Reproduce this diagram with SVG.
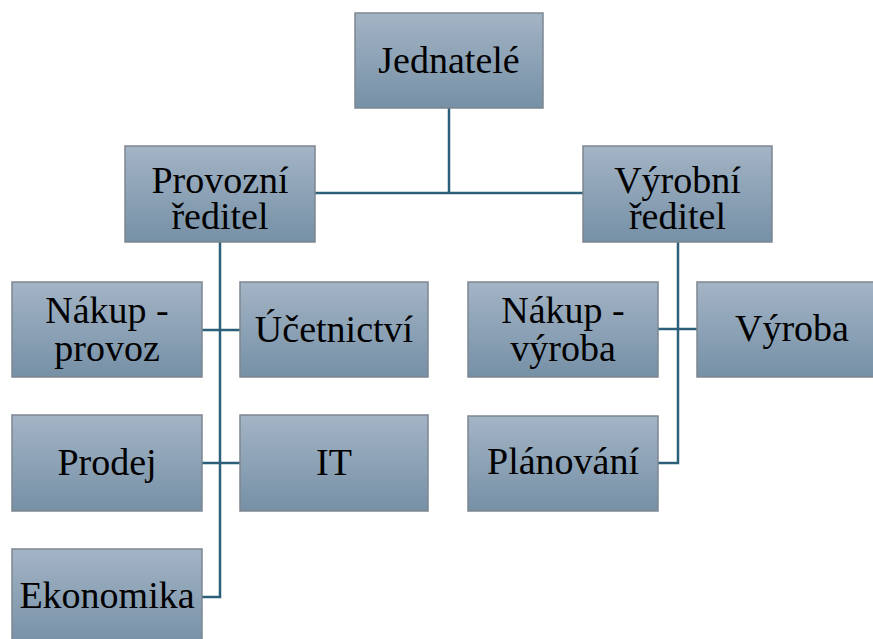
<svg xmlns="http://www.w3.org/2000/svg" width="873" height="639" viewBox="0 0 873 639">
<defs>
<linearGradient id="g" x1="0" y1="0" x2="0" y2="1">
<stop offset="0" stop-color="#a3b4c5"/>
<stop offset="1" stop-color="#7690a6"/>
</linearGradient>
<style>
.box{fill:url(#g);stroke:#7d8690;stroke-width:1.5}
.t{font-family:'Liberation Serif','Times New Roman',serif;font-size:38px;fill:#000;text-anchor:middle}
.c{fill:none;stroke:#2c5f79;stroke-width:2.5}
</style>
</defs>
<rect width="873" height="639" fill="#fff"/>
<g id="connectors">
<path class="c" d="M449 108V193"/>
<path class="c" d="M315 193H583"/>
<path class="c" d="M220 242V597H202"/>
<path class="c" d="M202 330H240"/>
<path class="c" d="M202 463H240"/>
<path class="c" d="M678 242V463H658"/>
<path class="c" d="M658 329H697"/>
</g>
<g id="jednatele"><rect class="box" x="355" y="13" width="188" height="95"/><text class="t" x="449" y="73">Jednatelé</text></g>
<g id="provozni"><rect class="box" x="125" y="146" width="190" height="96"/><text class="t" x="220" y="193">Provozní</text><text class="t" x="220" y="229">ředitel</text></g>
<g id="vyrobni"><rect class="box" x="583" y="146" width="189" height="96"/><text class="t" x="677.5" y="193">Výrobní</text><text class="t" x="677.5" y="229">ředitel</text></g>
<g id="nakup-provoz"><rect class="box" x="12" y="282" width="190" height="95"/><text class="t" x="107" y="323">Nákup -</text><text class="t" x="107" y="361">provoz</text></g>
<g id="ucetnictvi"><rect class="box" x="240" y="282" width="188" height="95"/><text class="t" x="334" y="342">Účetnictví</text></g>
<g id="prodej"><rect class="box" x="12" y="415" width="190" height="96"/><text class="t" x="107" y="475">Prodej</text></g>
<g id="it"><rect class="box" x="240" y="415" width="188" height="96"/><text class="t" x="334" y="475">IT</text></g>
<g id="ekonomika"><rect class="box" x="12" y="549" width="190" height="96"/><text class="t" x="107" y="608">Ekonomika</text></g>
<g id="nakup-vyroba"><rect class="box" x="468" y="282" width="190" height="95"/><text class="t" x="563" y="323">Nákup -</text><text class="t" x="563" y="361">výroba</text></g>
<g id="vyroba"><rect class="box" x="697" y="282" width="190" height="95"/><text class="t" x="792" y="341">Výroba</text></g>
<g id="planovani"><rect class="box" x="468" y="416" width="190" height="95"/><text class="t" x="563" y="474">Plánování</text></g>
</svg>
